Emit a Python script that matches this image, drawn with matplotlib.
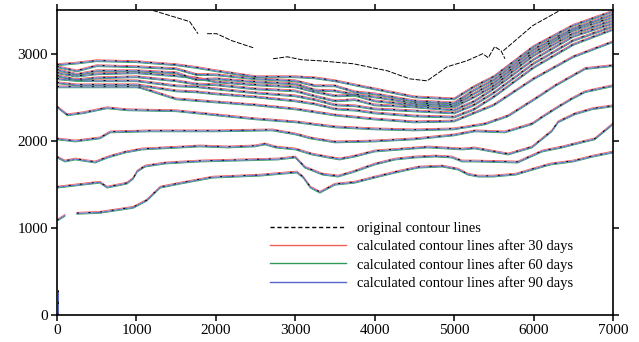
import numpy as np
import matplotlib.pyplot as plt
from matplotlib.lines import Line2D

plt.rcParams["font.family"] = ["Liberation Serif", "DejaVu Serif"]

# contour lines (x in m, y in m)
c1_x = [0, 100, np.nan, 250, 540, 960, 1130, 1300, 1550, 1960, 2560, 2850, 3020, 3100, 3190,
        3310, 3500, 3750, 4000, 4260, 4550, 4850, 5050, 5170, 5300, 5490, 5780, 5990, 6210,
        6500, 6750, 7000]
c1_y = [1085, 1142, np.nan, 1166, 1177, 1235, 1316, 1466, 1512, 1581, 1604, 1627, 1639, 1581,
        1466, 1408, 1500, 1523, 1581, 1639, 1696, 1708, 1673, 1616, 1593, 1593, 1616, 1673,
        1731, 1766, 1823, 1869]

c2_x = [0, 540, 630, 880, 960, 1010, 1110, 1360, 1800, 2780, 3000, 3120, 3340, 3540, 3750,
        4000, 4260, 4510, 4760, 4970, 5100, 5260, 5800, 6110, 6360, 6610, 6770, 7000]
c2_y = [1466, 1523, 1466, 1512, 1569, 1650, 1708, 1743, 1766, 1789, 1812, 1696, 1616, 1593,
        1650, 1731, 1789, 1812, 1823, 1812, 1766, 1766, 1754, 1881, 1927, 1985, 2020, 2193]

c3_x = [0, 100, 230, 480, 640, 860, 1070, 1320, 1570, 1800, 2150, 2490, 2620, 2750, 3000,
        3210, 3410, 3560, 3750, 4000, 4340, 4670, 4890, 5100, 5260, 5680, 5980, 6230, 6310,
        6520, 6740, 7000]
c3_y = [1812, 1766, 1789, 1754, 1812, 1869, 1904, 1916, 1927, 1939, 1927, 1939, 1962, 1927,
        1904, 1846, 1812, 1789, 1823, 1881, 1904, 1927, 1916, 1904, 1916, 1846, 1927, 2112,
        2216, 2308, 2366, 2400]

c4_x = [0, 230, 540, 670, 1170, 2000, 2710, 3000, 3190, 3500, 4000, 4500, 5000, 5260, 5640,
        5980, 6110, 6270, 6480, 6650, 7000]
c4_y = [2020, 1996, 2031, 2100, 2112, 2112, 2123, 2077, 2031, 1985, 1996, 2020, 2066, 2112,
        2100, 2193, 2273, 2366, 2481, 2562, 2631]

c5_x = [0, 130, 330, 630, 880, 1500, 2000, 2500, 3000, 3500, 4000, 4500, 5000, 5390, 5680,
        6020, 6270, 6650, 7000]
c5_y = [2389, 2296, 2320, 2377, 2354, 2343, 2296, 2250, 2216, 2158, 2135, 2123, 2135, 2193,
        2285, 2481, 2631, 2827, 2862]

c6_x = [0, 500, 1000, 1050, 1500, 2000, 2500, 3000, 3500, 4000, 4500, 5000, 5500, 6000,
        6500, 7000]
c6_y = [2617, 2617, 2617, 2610, 2479, 2444, 2410, 2364, 2294, 2248, 2215, 2225, 2410, 2710,
        2963, 3136]

# upper bundle of wavy lines
band_x = [0, 250, 500, 1000, 1500, 1750, 2000, 2500, 3000, 3250, 3500, 3750, 4000, 4500,
          5000, 5250, 5500, 6000, 6500, 7000]
c7_y = [2664, 2640, 2641, 2641, 2571, 2560, 2537, 2502, 2456, 2420, 2364, 2350, 2318, 2283,
        2271, 2360, 2504, 2839, 3104, 3277]
c8_y = [2710, 2690, 2687, 2687, 2629, 2620, 2594, 2548, 2514, 2470, 2410, 2400, 2364, 2341,
        2318, 2410, 2550, 2885, 3150, 3312]
c9_y = [2744, 2700, 2721, 2733, 2687, 2650, 2641, 2594, 2571, 2510, 2456, 2470, 2410, 2387,
        2352, 2450, 2597, 2931, 3197, 3347]
c10_y = [2779, 2740, 2767, 2779, 2744, 2720, 2675, 2641, 2617, 2560, 2514, 2520, 2456, 2410,
         2387, 2500, 2631, 2977, 3231, 3381]
c11_y = [2814, 2760, 2802, 2802, 2779, 2700, 2710, 2675, 2652, 2580, 2571, 2530, 2502, 2433,
         2410, 2540, 2666, 3012, 3266, 3416]
c12_y = [2848, 2800, 2860, 2848, 2825, 2760, 2756, 2710, 2687, 2630, 2629, 2560, 2537, 2456,
         2433, 2580, 2700, 3047, 3289, 3450]
c13_y = [2871, 2890, 2917, 2906, 2871, 2840, 2802, 2733, 2733, 2720, 2687, 2640, 2594, 2502,
         2479, 2620, 2735, 3081, 3324, 3485]

# short piece at the left edge
c0_x = [15, 15]
c0_y = [0, 280]

# uppermost line, only in the original map
top_x = [1210, 1670, 1775, np.nan, 1890, 2010, 2200, 2470, np.nan, 2720, 2900, 3080, 3310,
         3730, 4160, 4440, 4660, 4910, 5160, 5360, 5430, 5510, 5590, 5640, np.nan, 5620, 5990,
         6330, 6460]
top_y = [3494, 3367, 3228, np.nan, 3228, 3228, 3148, 3067, np.nan, 2940, 2963, 2929, 2917,
         2883, 2802, 2710, 2687, 2848, 2917, 2998, 2952, 3079, 3033, 2940, np.nan, 3033, 3321,
         3494, 3494]

contours = [(c0_x, c0_y), (c1_x, c1_y), (c2_x, c2_y), (c3_x, c3_y), (c4_x, c4_y),
            (c5_x, c5_y), (c6_x, c6_y), (band_x, c7_y), (band_x, c8_y), (band_x, c9_y),
            (band_x, c10_y), (band_x, c11_y), (band_x, c12_y), (band_x, c13_y)]

labels = ["original contour lines",
          "calculated contour lines after 30 days",
          "calculated contour lines after 60 days",
          "calculated contour lines after 90 days"]

red = "#f2605a"
green = "#2f9a58"
blue = "#5566cc"

fig = plt.figure(figsize=(6.39, 3.42), dpi=100)
ax = fig.add_axes([0.0892, 0.0789, 0.8701, 0.8919])

for xs, ys in contours:
    xs = np.array(xs, dtype=float)
    ys = np.array(ys, dtype=float)
    ax.plot(xs, ys + 12, color=red, lw=0.6)
    ax.plot(xs, ys - 10, color=green, lw=0.6)
    ax.plot(xs, ys, color=blue, lw=0.7)
    ax.plot(xs, ys + 4, color="black", lw=0.7, dashes=(2, 10))

ax.plot(top_x, top_y, color="black", lw=0.7, dashes=(5, 1.5))

ax.set_xlim(0, 7000)
ax.set_ylim(0, 3500)
ax.set_xticks(np.arange(0, 7001, 1000))
ax.set_yticks(np.arange(0, 3001, 1000))
ax.tick_params(direction="out", length=4, width=1.1, top=True, right=True,
               labelsize=11, pad=2.5)
for s in ax.spines.values():
    s.set_linewidth(1.2)

handles = [Line2D([], [], color="black", lw=1.0, dashes=(3, 2)),
           Line2D([], [], color=red, lw=1.0),
           Line2D([], [], color=green, lw=1.0),
           Line2D([], [], color=blue, lw=1.0)]
ax.legend(handles, labels, loc="upper left", bbox_to_anchor=(0.383, 0.305),
          frameon=False, fontsize=10.5, handlelength=5.2, handletextpad=0.75,
          labelspacing=0.3, borderpad=0, borderaxespad=0)

fig.savefig("out.png", dpi=100)
